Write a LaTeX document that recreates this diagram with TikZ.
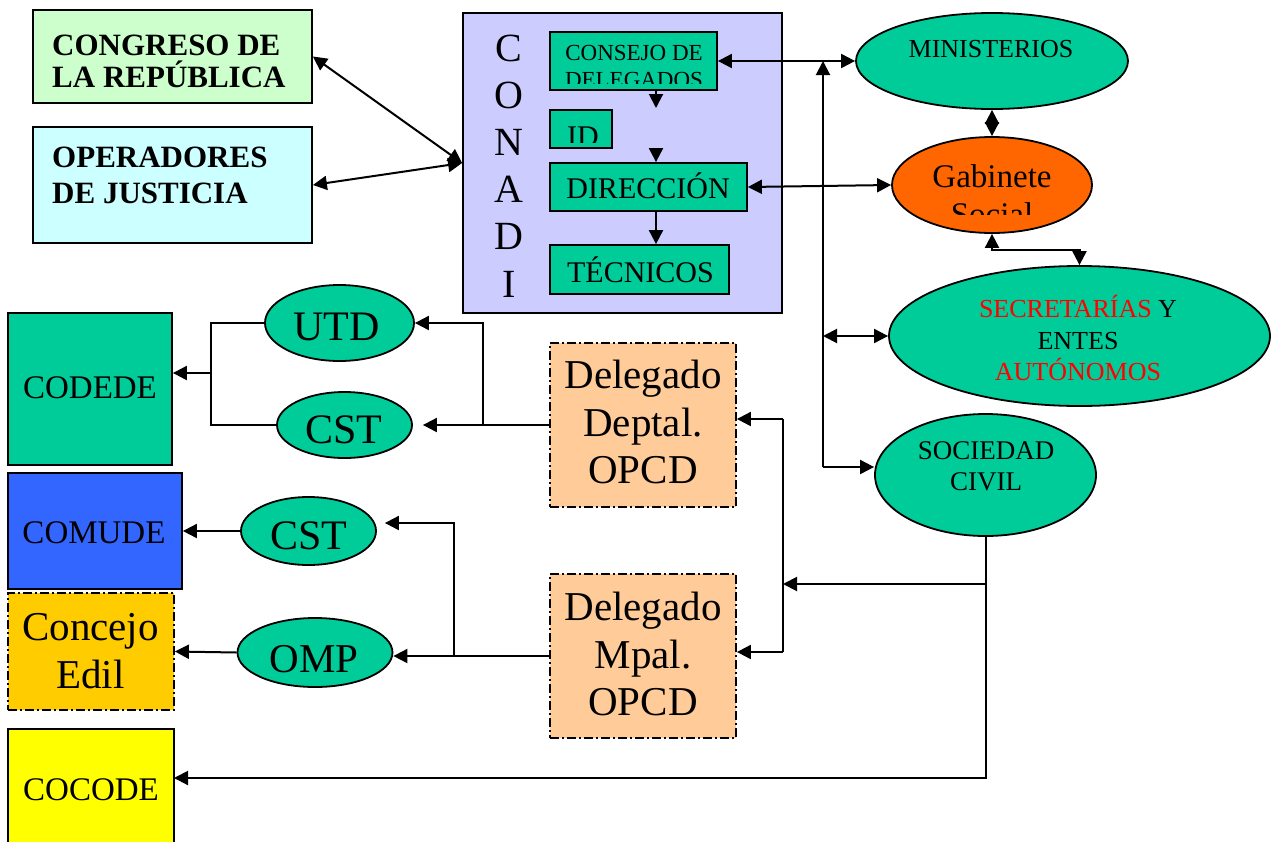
\documentclass[tikz,border=0pt]{standalone}
\usepackage{fontspec}
\setmainfont{Liberation Serif}
\usetikzlibrary{arrows.meta,shapes.geometric}
\definecolor{tealg}{HTML}{00CC99}
\definecolor{congc}{HTML}{CCFFCC}
\definecolor{operc}{HTML}{CCFFFF}
\definecolor{conadic}{HTML}{CCCCFF}
\definecolor{delc}{HTML}{FFCC99}
\definecolor{comudec}{HTML}{3366FF}
\definecolor{concc}{HTML}{FFCC00}
\definecolor{cocodec}{HTML}{FFFF00}
\definecolor{gabc}{HTML}{FF6600}
\definecolor{redt}{HTML}{FF0000}
\tikzset{
  box/.style={draw=black, line width=1.8pt, rectangle, inner sep=0pt},
  oval/.style={draw=black, line width=1.8pt, ellipse, inner sep=0pt, fill=tealg},
  dd/.style={dash pattern=on 9pt off 3pt on 2pt off 3pt},
  conn/.style={line width=2pt, draw=black},
  tip/.style={-{Triangle[length=14pt,width=14pt]}},
  dtip/.style={{Triangle[length=14pt,width=14pt]}-{Triangle[length=14pt,width=14pt]}},
  txt/.style={anchor=base, inner sep=0pt, text=black},
}
\begin{document}
\begin{tikzpicture}[x=1pt,y=-1pt]
\useasboundingbox (0,0) rectangle (1277,841);
% --- shapes ---
\node[box, fill=congc, minimum width=279pt, minimum height=93pt] (cong) at (172.5,56.5) {};
\node[box, fill=operc, minimum width=279pt, minimum height=116pt] (oper) at (172.5,185) {};
\node[box, fill=conadic, minimum width=319pt, minimum height=300pt] (conadi) at (622.5,163) {};
\node[box, fill=tealg, minimum width=167pt, minimum height=58pt] (consejo) at (633.5,61) {};
\node[box, fill=tealg, minimum width=62pt, minimum height=38pt] (idb) at (581,129) {};
\node[box, fill=tealg, minimum width=197pt, minimum height=48pt] (dir) at (648.5,187) {};
\node[box, fill=tealg, minimum width=179pt, minimum height=49pt] (tec) at (639.5,269.5) {};
\node[oval, minimum width=272pt, minimum height=96pt] (min) at (992,61) {};
\node[oval, fill=gabc, minimum width=200pt, minimum height=96pt] (gab) at (992,185) {};
\node[oval, minimum width=381pt, minimum height=140pt] (sec) at (1079.5,336) {};
\node[oval, minimum width=221pt, minimum height=122pt] (soc) at (985.5,475) {};
\node[box, dd, fill=delc, minimum width=186pt, minimum height=164pt] (deptal) at (643,425) {};
\node[box, dd, fill=delc, minimum width=186pt, minimum height=164pt] (mpal) at (643,656) {};
\node[oval, minimum width=149pt, minimum height=76pt] (utd) at (339.5,323) {};
\node[oval, minimum width=135pt, minimum height=66pt] (cst1) at (344.5,425) {};
\node[box, fill=tealg, minimum width=164pt, minimum height=152pt] (codede) at (90,389) {};
\node[box, fill=comudec, minimum width=174pt, minimum height=116pt] (comude) at (95,531) {};
\node[oval, minimum width=135pt, minimum height=68pt] (cst2) at (308.5,531) {};
\node[oval, minimum width=155pt, minimum height=69pt] (omp) at (315,652.5) {};
\node[box, dd, fill=concc, minimum width=166pt, minimum height=117pt] (concejo) at (91,651.5) {};
\node[box, fill=cocodec, minimum width=166pt, minimum height=122pt] (cocode) at (91,790) {};
% --- texts ---
\node[txt, anchor=base west, font=\fontsize{31}{31}\selectfont\bfseries] (t1) at (52,55) {CONGRESO DE};
\node[txt, anchor=base west, font=\fontsize{31}{31}\selectfont\bfseries] (t2) at (52,87) {LA REPÚBLICA};
\node[txt, anchor=base west, font=\fontsize{31}{31}\selectfont\bfseries] (t3) at (52,167) {OPERADORES};
\node[txt, anchor=base west, font=\fontsize{31}{31}\selectfont\bfseries] (t4) at (52,203) {DE JUSTICIA};
\foreach \l/\y [count=\i] in {C/61,O/108,N/155,A/202,D/249,I/297}
  \node[txt, font=\fontsize{40}{40}\selectfont] (cl\i) at (509,\y) {\l};
\begin{scope}
\clip (550,32) rectangle (717,83);
\node[txt, font=\fontsize{23}{23}\selectfont] (t5) at (634,60) {CONSEJO DE};
\node[txt, font=\fontsize{23}{23}\selectfont] (t6) at (634,87) {DELEGADOS};
\end{scope}
\begin{scope}
\clip (550,110) rectangle (612,142);
\node[txt, anchor=base west, font=\fontsize{30}{30}\selectfont] (t7) at (567,146) {ID};
\end{scope}
\node[txt, font=\fontsize{30}{30}\selectfont] (t8) at (648,198) {DIRECCIÓN};
\node[txt, font=\fontsize{30}{30}\selectfont] (t9) at (640.5,282) {TÉCNICOS};
\node[txt, font=\fontsize{26}{26}\selectfont] (t10) at (991,57) {MINISTERIOS};
\begin{scope}
\clip (880,140) rectangle (1100,214);
\node[txt, font=\fontsize{33}{33}\selectfont] (t11) at (992,187) {Gabinete};
\node[txt, font=\fontsize{33}{33}\selectfont] (t12) at (992,225) {Social};
\end{scope}
\node[txt, font=\fontsize{26}{26}\selectfont] (t13) at (1078,317) {\textcolor{redt}{SECRETARÍAS} Y};
\node[txt, font=\fontsize{26}{26}\selectfont] (t14) at (1078,349) {ENTES};
\node[txt, font=\fontsize{26}{26}\selectfont, text=redt] (t15) at (1078,380) {AUTÓNOMOS};
\node[txt, font=\fontsize{27}{27}\selectfont] (t16) at (986,459) {SOCIEDAD};
\node[txt, font=\fontsize{27}{27}\selectfont] (t17) at (986,490) {CIVIL};
\node[txt, font=\fontsize{41}{41}\selectfont] (t18) at (643,388) {Delegado};
\node[txt, font=\fontsize{41}{41}\selectfont] (t19) at (643,436) {Deptal.};
\node[txt, font=\fontsize{41}{41}\selectfont] (t20) at (643,483) {OPCD};
\node[txt, font=\fontsize{41}{41}\selectfont] (t21) at (643,620) {Delegado};
\node[txt, font=\fontsize{41}{41}\selectfont] (t22) at (643,668) {Mpal.};
\node[txt, font=\fontsize{41}{41}\selectfont] (t23) at (643,715) {OPCD};
\node[txt, font=\fontsize{42}{42}\selectfont] (t24) at (336.6,340) {UTD};
\node[txt, font=\fontsize{42}{42}\selectfont] (t25) at (344,443) {CST};
\node[txt, font=\fontsize{33}{33}\selectfont] (t26) at (90,398) {CODEDE};
\node[txt, font=\fontsize{33}{33}\selectfont] (t27) at (94,543) {COMUDE};
\node[txt, font=\fontsize{42}{42}\selectfont] (t28) at (308.6,549) {CST};
\node[txt, font=\fontsize{41}{41}\selectfont] (t29) at (314,672) {OMP};
\node[txt, font=\fontsize{41}{41}\selectfont] (t30) at (90.5,640) {Concejo};
\node[txt, font=\fontsize{41}{41}\selectfont] (t31) at (90.5,688) {Edil};
\node[txt, font=\fontsize{33}{33}\selectfont] (t32) at (91,800) {COCODE};
% --- coordinates ---
\coordinate (a1) at (656,108);
\coordinate (a2) at (656,148);
\coordinate (bt) at (823,61);
\coordinate (bs) at (823,336);
\coordinate (bb) at (823,467);
\coordinate (gj) at (992,250);
\coordinate (sj) at (985.5,584);
\coordinate (vt) at (783,419);
\coordinate (vm) at (783,584);
\coordinate (vb) at (783,652);
\coordinate (cc) at (174,778);
\coordinate (dj) at (483,425);
\coordinate (cb) at (211,373);
\coordinate (mj) at (454,656);
% --- connectors ---
\draw[conn, dtip] (cong.east) -- (conadi.west);
\draw[conn, dtip] (oper.east) -- (conadi.west);
\draw[conn, tip] (consejo.south -| a1) -- (a1);
\draw[conn, tip] (a2) -- (a2 |- dir.north);
\draw[conn, tip] (dir.south -| a1) -- (a1 |- tec.north);
\draw[conn, dtip] (consejo.east) -- (min.west);
\draw[conn, dtip] (dir.east) -- (gab.west);
\draw[conn, dtip] (min.south) -- (gab.north);
\draw[conn, dtip] (gab.south) |- (gj) -| (sec.north);
\draw[conn, tip] (bb) -- (bt);
\draw[conn, tip] (bb) -- (bb -| soc.west);
\draw[conn, dtip] (bs) -- (sec.west);
\draw[conn] (soc.south) -- (sj);
\draw[conn, tip] (sj) |- (cc);
\draw[conn, tip] (sj) -- (vm);
\draw[conn] (vt) -- (vb);
\draw[conn, tip] (vt) -- (vt -| deptal.east);
\draw[conn, tip] (vb) -- (vb -| mpal.east);
\draw[conn, tip] (deptal.west) -- ([xshift=10pt]cst1.east);
\draw[conn, tip] (dj) |- (utd.east);
\draw[conn] (utd.west) -| (cb);
\draw[conn] (cst1.west) -| (cb);
\draw[conn, tip] (cb) -- (cb -| codede.east);
\draw[conn, tip] (mpal.west) -- (mpal.west -| omp.east);
\draw[conn, tip] (mj) |- ([xshift=8pt,yshift=8pt]cst2.east);
\draw[conn, tip] (cst2.west) -- (comude.east);
\draw[conn, tip] (omp.west) -- (concejo.east);
\end{tikzpicture}
\end{document}
